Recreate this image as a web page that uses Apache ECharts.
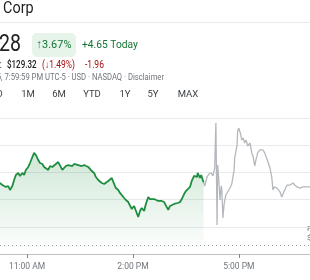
<!DOCTYPE html>
<html>
<head>
<meta charset="utf-8">
<script src="https://cdn.jsdelivr.net/npm/echarts@6/dist/echarts.min.js"></script>
<style>
html,body{margin:0;padding:0;background:#fff;}
#c{width:310px;height:280px;}
</style>
</head>
<body>
<div id="c"></div>
<script>
// time in minutes since midnight, price in USD
const regularSession = [
[614,131.22],[618,131.07],[621,131.15],[624,130.93],[628,131.00],[631,130.71],[635,131.00],[638,131.44],
[641,131.81],[645,131.96],[648,131.74],[652,131.96],[655,131.81],[658,132.18],[662,132.40],[665,132.69],
[669,133.13],[672,133.43],[674,133.50],[675,133.28],[679,132.91],[682,132.69],[686,132.62],[689,132.40],
[692,132.32],[696,132.18],[699,132.47],[703,132.40],[706,132.47],[709,132.62],[713,132.76],[716,132.69],
[720,132.18],[723,132.18],[726,132.47],[730,132.54],[733,132.62],[737,132.47],[740,132.62],[743,132.54],
[747,132.54],[750,132.62],[753,132.47],[757,132.54],[760,132.40],[764,132.40],[767,132.32],[770,132.10],
[774,131.96],[777,131.66],[781,131.44],[784,131.44],[787,131.22],[791,131.15],[794,131.29],[798,131.37],
[801,131.44],[804,131.59],[808,131.15],[811,130.85],[815,130.71],[818,130.49],[821,130.41],[825,130.12],
[828,129.97],[832,129.82],[835,129.68],[838,129.31],[842,129.53],[845,129.46],[849,128.72],[852,129.16],
[855,129.38],[859,129.16],[862,129.68],[866,130.19],[869,130.04],[872,129.97],[876,130.04],[879,129.97],
[883,129.90],[886,130.04],[889,129.90],[893,129.82],[896,129.68],[900,129.24],[903,129.53],[906,129.60],
[910,129.68],[913,129.68],[916,129.75],[920,129.82],[923,130.04],[927,130.41],[930,130.63],[933,130.71],
[937,130.93],[940,131.37],[944,131.74],[947,131.88],[949,131.66],[950,131.96],[954,131.59],[956,131.81],
[960,131.28]
];
const afterHours = [
[960,131.28],[962,131.00],[966,131.66],[969,131.88],[973,131.96],[976,131.74],[979,132.32],[981,135.63],
[983,128.13],[984,132.54],[986,131.44],[988,129.97],[990,131.00],[991,130.78],[993,128.65],[995,129.68],
[998,130.34],[1001,130.26],[1005,130.85],[1008,131.15],[1012,132.18],[1013,133.06],[1017,134.01],[1018,135.04],
[1020,135.26],[1022,135.19],[1023,134.82],[1025,134.38],[1027,134.53],[1029,134.31],[1030,134.16],[1032,134.38],
[1034,134.16],[1035,133.94],[1039,134.16],[1042,133.43],[1044,133.21],[1047,132.47],[1049,132.91],[1051,133.21],
[1052,133.43],[1056,133.65],[1059,133.57],[1061,133.65],[1064,133.43],[1066,133.50],[1069,132.84],[1073,132.32],
[1076,131.66],[1078,130.71],[1080,130.93],[1081,131.07],[1085,130.85],[1088,130.85],[1090,130.56],[1093,130.19],
[1095,130.12],[1098,130.71],[1102,131.07],[1105,131.00],[1107,131.07],[1112,131.22],[1115,131.07],[1119,130.93],
[1124,130.85],[1129,130.93],[1132,131.07],[1136,130.93],[1141,130.93]
];
const previousClose = 126.63;
const tickValues = [660, 840, 1020];
const tickLabels = ['11:00 AM', '2:00 PM', '5:00 PM'];
const rangeButtons = ['1D', '1M', '6M', 'YTD', '1Y', '5Y', 'MAX'];

const FF = 'Roboto, "Noto Sans", sans-serif';
const chart = echarts.init(document.getElementById('c'), null, {renderer: 'canvas'});

function txt(text, x, y, size, color, align, weight, sx) {
  return {type: 'text', x: x, y: y, scaleX: sx || 1, silent: true,
    style: {text: text, fontSize: size, fontFamily: FF, fill: color,
      textAlign: align || 'left', textVerticalAlign: 'middle', fontWeight: weight || 'normal'}};
}
const btnX = [-3, 28, 59, 92, 125, 153, 188];
const graphics = [
  txt('Corp', 3, 9, 17, '#202124', 'left', 'normal', 0.85),
  {type: 'rect', shape: {x: 0, y: 22, width: 310, height: 1}, style: {fill: '#e8eaed'}, silent: true},
  txt('131.28', 21, 45, 23, '#202124', 'right', 'normal', 0.85),
  {type: 'rect', shape: {x: 32, y: 33, width: 44, height: 24, r: 5}, style: {fill: '#e6f4ea'}, silent: true},
  txt('↑3.67%', 54, 45, 11.5, '#137333', 'center', 'normal', 0.95),
  txt('+4.65 Today', 82, 45, 11.5, '#137333', 'left', 'normal', 0.89),
  txt('After hours: ', 4, 65, 10, '#202124', 'right', 'normal', 0.85),
  txt('$129.32', 7, 65, 10, '#202124', 'left', 500, 0.8),
  txt('(↓1.49%)', 42, 65, 10, '#a50e0e', 'left', 'normal', 0.85),
  txt('-1.96', 85, 65, 10, '#a50e0e', 'left', 'normal', 0.85),
  txt('Closed: Jan 5, 7:59:59 PM UTC-5 · USD · NASDAQ · Disclaimer', 164, 78, 9, '#70757a', 'right', 'normal', 0.85),
  txt('Prev close', 307, 229, 8, '#70757a'),
  txt('$126.63', 307, 238, 8, '#70757a')
];
rangeButtons.forEach(function (b, i) {
  graphics.push(txt(b, btnX[i], 95, 9.5, '#3c4043', 'center'));
});

chart.setOption({
  animation: false,
  grid: {left: 0, right: 0, top: 118, bottom: 26, containLabel: false},
  xAxis: {
    type: 'value', min: 614, max: 1141,
    splitLine: {show: false},
    axisLine: {show: true, lineStyle: {color: '#bdc1c6', width: 1}},
    axisTick: {show: true, length: 4, customValues: tickValues, lineStyle: {color: '#80868b'}},
    axisLabel: {show: true, customValues: tickValues, margin: 8, fontSize: 8.5, color: '#70757a', fontFamily: FF,
      formatter: function (v) { const i = tickValues.indexOf(v); return i >= 0 ? tickLabels[i] : ''; }}
  },
  yAxis: {
    type: 'value', min: 126, max: 136, interval: 2, position: 'right',
    axisLine: {show: false}, axisTick: {show: false}, axisLabel: {show: false},
    splitLine: {show: true, lineStyle: {color: '#e8eaed', width: 1}}
  },
  graphic: graphics,
  series: [
    {
      type: 'line', data: regularSession, showSymbol: false, symbol: 'none',
      lineStyle: {color: '#1e8e3e', width: 1.8},
      areaStyle: {origin: 'start', color: new echarts.graphic.LinearGradient(0, 0, 0, 1, [
        {offset: 0, color: 'rgba(30,142,62,0.3)'},
        {offset: 1, color: 'rgba(30,142,62,0)'}
      ])},
      markLine: {
        silent: true, symbol: 'none', label: {show: false},
        lineStyle: {color: '#9aa0a6', type: [1, 3], width: 1},
        data: [{yAxis: previousClose}]
      },
      z: 3
    },
    {
      type: 'line', data: afterHours, showSymbol: false, symbol: 'none',
      lineStyle: {color: '#b4b8bd', width: 1.3},
      z: 2
    }
  ]
});
</script>
</body>
</html>
